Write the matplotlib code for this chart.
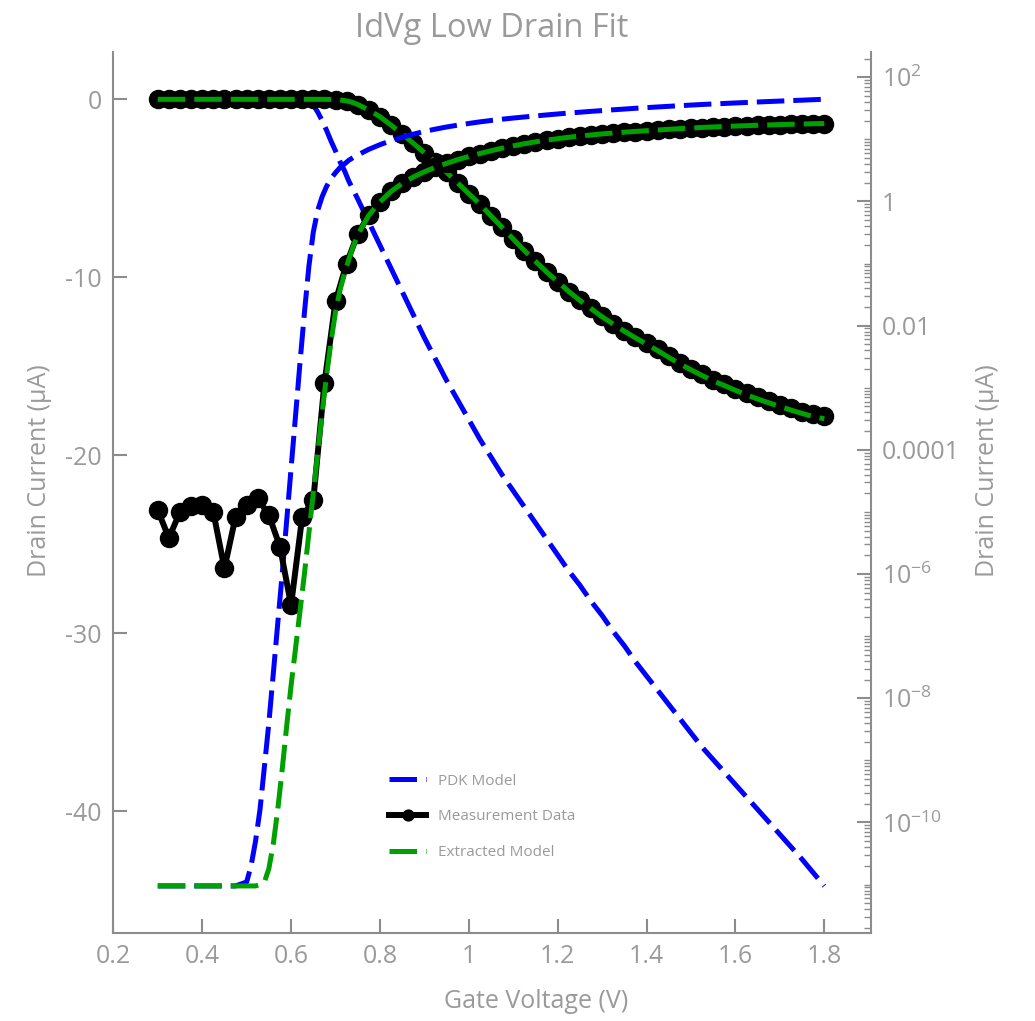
import numpy as np
import matplotlib.pyplot as plt
from matplotlib.ticker import FixedLocator, FixedFormatter, LogLocator, NullFormatter

plt.rcParams['font.family'] = ['Open Sans', 'DejaVu Sans']
plt.rcParams['mathtext.fontset'] = 'custom'
plt.rcParams['mathtext.rm'] = 'Open Sans'
plt.rcParams['mathtext.it'] = 'Open Sans:italic'

# measured gate sweep (V)
vg = [0.300, 0.325, 0.350, 0.375, 0.400, 0.425, 0.450, 0.475, 0.500, 0.525,
      0.550, 0.575, 0.600, 0.625, 0.650, 0.675, 0.700, 0.725, 0.750, 0.775,
      0.800, 0.825, 0.850, 0.875, 0.900, 0.925, 0.950, 0.975, 1.000, 1.025,
      1.050, 1.075, 1.100, 1.125, 1.150, 1.175, 1.200, 1.225, 1.250, 1.275,
      1.300, 1.325, 1.350, 1.375, 1.400, 1.425, 1.450, 1.475, 1.500, 1.525,
      1.550, 1.575, 1.600, 1.625, 1.650, 1.675, 1.700, 1.725, 1.750, 1.775,
      1.800]

# simulation sweep, finer around threshold
vg_sim = [0.300, 0.325, 0.350, 0.375, 0.400, 0.425, 0.450, 0.475,
          0.50, 0.51, 0.52, 0.53, 0.54, 0.55, 0.56, 0.57, 0.58, 0.59,
          0.60, 0.61, 0.62, 0.63, 0.64, 0.65, 0.66, 0.67, 0.68, 0.69,
          0.70, 0.71, 0.72, 0.73, 0.74,
          0.750, 0.775, 0.800, 0.825, 0.850, 0.875, 0.900, 0.925, 0.950, 0.975,
          1.000, 1.025, 1.050, 1.075, 1.100, 1.125, 1.150, 1.175, 1.200, 1.225,
          1.250, 1.275, 1.300, 1.325, 1.350, 1.375, 1.400, 1.425, 1.450, 1.475,
          1.500, 1.525, 1.550, 1.575, 1.600, 1.625, 1.650, 1.675, 1.700, 1.725,
          1.750, 1.775, 1.800]

# drain current (uA), low Vd
id_meas = [-1.07e-5, -3.8e-6, -1.0e-5, -1.23e-5, -1.29e-5, -1.0e-5, -1.23e-6, -8.3e-6, -1.29e-5, -1.66e-5,
           -8.9e-6, -2.75e-6, -3.16e-7, -8.3e-6, -1.55e-5, -1.17e-3, -2.45e-2, -0.10, -0.30, -0.60,
           -0.98, -1.45, -1.95, -2.47, -3.00, -3.55, -4.10, -4.70, -5.30, -5.90,
           -6.55, -7.20, -7.85, -8.50, -9.10, -9.70, -10.25, -10.80, -11.30, -11.75,
           -12.20, -12.60, -13.00, -13.35, -13.70, -14.05, -14.45, -14.80, -15.15, -15.45,
           -15.75, -16.00, -16.27, -16.52, -16.75, -16.95, -17.15, -17.35, -17.55, -17.70,
           -17.80]

id_pdk = [-9.5e-12, -9.5e-12, -9.5e-12, -9.5e-12, -9.5e-12, -9.5e-12, -9.5e-12, -9.5e-12,
          -1.1e-11, -2.0e-11, -5.0e-11, -1.6e-10, -7.9e-10, -4.0e-9, -2.5e-8, -1.6e-7, -1.0e-6, -7.1e-6,
          -5.0e-5, -3.5e-4, -2.5e-3, -1.6e-2, -0.089, -0.32, -0.72, -1.2, -1.75, -2.35,
          -2.9, -3.5, -4.0, -4.6, -5.1,
          -5.6, -6.9, -8.2, -9.5, -10.8, -12.1, -13.4, -14.6, -15.8, -16.9,
          -18.0, -19.1, -20.1, -21.1, -22.0, -22.9, -23.8, -24.7, -25.6, -26.5,
          -27.3, -28.2, -29.0, -29.9, -30.7, -31.6, -32.4, -33.2, -34.0, -34.8,
          -35.6, -36.4, -37.1, -37.8, -38.5, -39.2, -39.9, -40.6, -41.3, -42.0,
          -42.7, -43.45, -44.2]

id_ext = [-9.5e-12, -9.5e-12, -9.5e-12, -9.5e-12, -9.5e-12, -9.5e-12, -9.5e-12, -9.5e-12,
          -9.5e-12, -9.5e-12, -9.5e-12, -1.0e-11, -1.1e-11, -1.8e-11, -4.5e-11, -1.6e-10, -7.1e-10, -3.5e-9,
          -1.6e-8, -6.3e-8, -2.5e-7, -1.0e-6, -4.5e-6, -2.0e-5, -8.9e-5, -4.0e-4, -1.6e-3, -5.6e-3,
          -0.0166, -0.037, -0.068, -0.117, -0.19,
          -0.29, -0.60, -0.98, -1.45, -1.95, -2.47, -3.00, -3.55, -4.10, -4.70,
          -5.30, -5.90, -6.55, -7.20, -7.85, -8.50, -9.10, -9.70, -10.25, -10.80,
          -11.30, -11.76, -12.22, -12.63, -13.03, -13.40, -13.76, -14.12, -14.50, -14.86,
          -15.20, -15.52, -15.82, -16.08, -16.35, -16.60, -16.84, -17.05, -17.26, -17.46,
          -17.65, -17.82, -17.95]

xticks = [0.2, 0.4, 0.6, 0.8, 1.0, 1.2, 1.4, 1.6, 1.8]
xticklabels = ['0.2', '0.4', '0.6', '0.8', '1', '1.2', '1.4', '1.6', '1.8']
yticks = [0, -10, -20, -30, -40]
yticklabels = ['0', '-10', '-20', '-30', '-40']
logticks = [1e2, 1, 1e-2, 1e-4, 1e-6, 1e-8, 1e-10]
logticklabels = ['$10^{2}$', '1', '0.01', '0.0001', '$10^{-6}$', '$10^{-8}$', '$10^{-10}$']

grey = '#9a9a9a'
spine_grey = '#8c8c8c'
dash = (0, (5.5, 1.8))

fig = plt.figure(figsize=(10.35, 10.21), dpi=100)
ax = fig.add_axes([0.1092, 0.0862, 0.7323, 0.8629])
ax2 = ax.twinx()

curves = [
    (vg_sim, id_pdk, dict(color='#0000ff', lw=3.6, ls=dash, label='PDK Model')),
    (vg, id_meas, dict(color='black', lw=4.3, marker='o', ms=13, label='Measurement Data')),
    (vg_sim, id_ext, dict(color='#00a000', lw=3.6, ls=dash, label='Extracted Model')),
]

# linear on the left, |Id| on log scale on the right
for x, ids, st in curves:
    ax.plot(x, ids, **st)
for x, ids, st in curves:
    ax2.plot(x, np.abs(ids), **st)

ax.set_xlim(0.1993, 1.905)
ax.set_ylim(-46.84, 2.66)
ax2.set_yscale('log')
ax2.set_ylim(1.66e-12, 255)

ax.xaxis.set_major_locator(FixedLocator(xticks))
ax.xaxis.set_major_formatter(FixedFormatter(xticklabels))
ax.yaxis.set_major_locator(FixedLocator(yticks))
ax.yaxis.set_major_formatter(FixedFormatter(yticklabels))
ax2.yaxis.set_major_locator(FixedLocator(logticks))
ax2.yaxis.set_major_formatter(FixedFormatter(logticklabels))
ax2.yaxis.set_minor_locator(LogLocator(base=10, subs=np.arange(1, 10), numticks=100))
ax2.yaxis.set_minor_formatter(NullFormatter())

for a in (ax, ax2):
    a.tick_params(which='major', direction='in', length=10, width=1.5,
                  color=spine_grey, labelcolor=grey, labelsize=18, pad=8)
    a.tick_params(which='minor', direction='in', length=5, width=1, color=spine_grey)
    for s in a.spines.values():
        s.set_color(spine_grey)
        s.set_linewidth(1.5)
    a.spines['top'].set_visible(False)
ax.spines['right'].set_visible(False)
ax2.spines['left'].set_visible(False)
ax2.spines['bottom'].set_visible(False)

ax.set_xlabel('Gate Voltage (V)', fontsize=18, color=grey)
ax.xaxis.set_label_coords(0.558, -0.064)
ax.set_ylabel('Drain Current (μA)', fontsize=18, color=grey)
ax.yaxis.set_label_coords(-0.080, 0.525)
ax2.set_ylabel('Drain Current (μA)', fontsize=18, color=grey)
ax2.yaxis.set_label_coords(1.137, 0.525)
ax.set_title('IdVg Low Drain Fit', fontsize=23.5, color=grey, pad=11)

handles, labels = ax.get_legend_handles_labels()
ax2.legend(handles, labels, loc='upper left', bbox_to_anchor=(0.363, 0.2556),
           bbox_transform=fig.transFigure, frameon=False, fontsize=11,
           labelcolor=grey, handlelength=2.4, handletextpad=0.8,
           labelspacing=1.35, markerscale=0.6)

fig.savefig('out.png', dpi=100)
